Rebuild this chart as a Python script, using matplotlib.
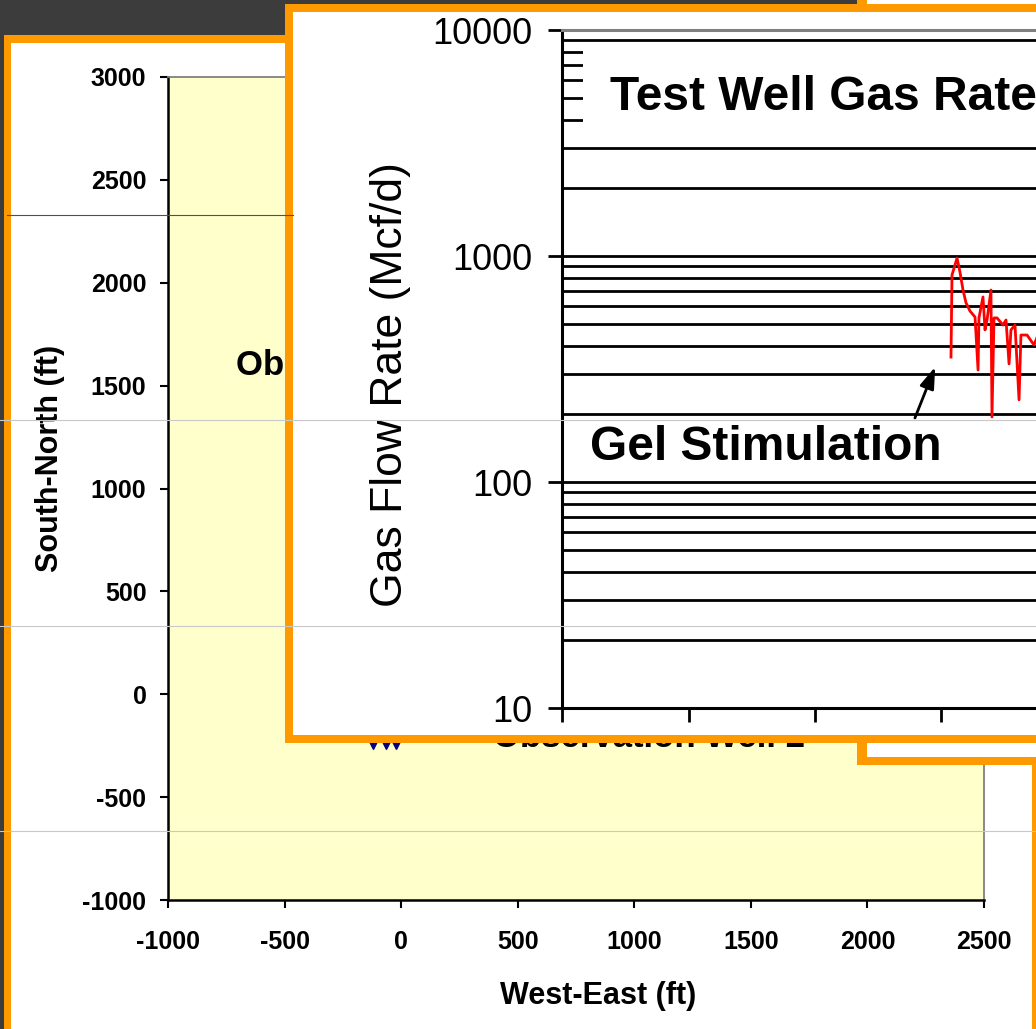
import numpy as np
import matplotlib.pyplot as plt
from matplotlib.patches import Rectangle
from matplotlib.lines import Line2D
from matplotlib.ticker import LogLocator, NullFormatter

plt.rcParams['font.family'] = ['Liberation Sans', 'DejaVu Sans']
plt.rcParams['axes.unicode_minus'] = False

# --- well map (plan view) ---
well_x = [-121, -65, -22]
well_y = [-239, -239, -239]
well_labels = ['Observation Well 1', 'Observation Well 2']
label_x = [-708, 394]
label_y = [1552, -254]
we_ticks = [-1000, -500, 0, 500, 1000, 1500, 2000, 2500]
sn_ticks = [-1000, -500, 0, 500, 1000, 1500, 2000, 2500, 3000]

# --- test well gas rate ---
days = [307.5, 308.3, 312.3, 314.6, 317.0, 319.4, 322.5, 326.5, 328.9, 329.6,
        332.8, 334.4, 336.0, 339.1, 339.9, 341.5, 343.9, 348.6, 351.0, 353.4,
        354.9, 358.1, 361.3, 362.8, 367.6, 373.1, 377.9]
gas_rate = [357, 824, 980, 849, 707, 620, 571, 537, 313, 532,
            659, 471, 521, 707, 194, 532, 532, 495, 521, 333,
            471, 495, 231, 447, 447, 404, 471]
rate_ticks = [10, 100, 1000, 10000]
rate_tick_labels = ['10', '100', '1000', '10000']
day_ticks = [0, 100, 200, 300, 400, 500]

ORANGE = '#FF9900'
W, H = 1036, 1029


def box(x0, y0, x1, y1):
    """pixel box (top-left origin) -> figure fraction [x, y, w, h]"""
    return [x0 / W, 1 - y1 / H, (x1 - x0) / W, (y1 - y0) / H]


def panel(outer, inner, z):
    for r, c in ((outer, ORANGE), (inner, 'white')):
        b = box(*r)
        fig.add_artist(Rectangle(b[:2], b[2], b[3], transform=fig.transFigure,
                                 facecolor=c, edgecolor='none', zorder=z))


fig = plt.figure(figsize=(10.36, 10.29), dpi=100)
fig.patch.set_facecolor('#3c3c3c')

# slide panels (back to front)
panel((4, 35, 1050, 1050), (11, 43, 1032, 1050), 1)

# ---- map chart ----
ax1 = fig.add_axes(box(168, 77, 984, 900))
ax1.set_zorder(2)
ax1.set_facecolor('#FFFFCC')
ax1.plot(well_x, well_y, 'v', color='#000080', ms=8)
for t, x, y in zip(well_labels, label_x, label_y):
    ax1.text(x, y, t, fontsize=25, fontweight='bold', va='baseline', ha='left')
ax1.set_xlim(-1000, 2500)
ax1.set_ylim(-1000, 3000)
ax1.set_xticks(we_ticks)
ax1.set_yticks(sn_ticks)
plt.setp(ax1.get_xticklabels() + ax1.get_yticklabels(), fontweight='bold')
ax1.tick_params(axis='both', direction='out', length=5.5, width=1.5, labelsize=18)
ax1.tick_params(axis='x', pad=16)
ax1.tick_params(axis='y', pad=10)
for s in ('left', 'bottom'):
    ax1.spines[s].set_linewidth(1.8)
    ax1.spines[s].set_color('black')
for s in ('top', 'right'):
    ax1.spines[s].set_linewidth(1.3)
    ax1.spines[s].set_color('#808080')
ax1.set_xlabel('West-East (ft)', fontsize=22, fontweight='bold', va='center')
ax1.set_ylabel('South-North (ft)', fontsize=22, fontweight='bold', va='center')
ax1.xaxis.set_label_coords((598 - 168) / 816, (900 - 996) / 823)
ax1.yaxis.set_label_coords((50 - 168) / 816, (900 - 458) / 823)

panel((857, -20, 1050, 765), (867, -20, 1050, 757), 3)
panel((285, 4, 1050, 743), (293, 12, 1050, 735), 4)

# ---- gas rate chart ----
ax2 = fig.add_axes(box(562, 30, 562 + 632.5, 708))
ax2.set_zorder(5)
ax2.set_facecolor('white')
ax2.set_yscale('log')
ax2.set_xlim(0, 500)
ax2.set_ylim(10, 10000)
ax2.set_xticks(day_ticks)
ax2.set_yticks(rate_ticks, labels=rate_tick_labels)
ax2.yaxis.set_minor_locator(LogLocator(base=10, subs=np.arange(2, 10)))
ax2.yaxis.set_minor_formatter(NullFormatter())
ax2.tick_params(axis='x', labelbottom=False, direction='out', length=10, width=2)
ax2.tick_params(axis='y', which='major', direction='out', length=10, width=2,
                labelsize=26, pad=11)
ax2.tick_params(axis='y', which='minor', length=0)
ax2.yaxis.grid(True, which='both', color='black', lw=2.0)
for s in ('left', 'bottom'):
    ax2.spines[s].set_linewidth(2.2)
    ax2.spines[s].set_color('black')
ax2.spines['top'].set_linewidth(2.2)
ax2.spines['top'].set_color('#808080')
ax2.spines['top'].set_zorder(3)

ax2.plot(days, gas_rate, color='red', lw=2.0, zorder=2.2)

# white box behind the chart title
ax2.add_patch(Rectangle((16.6, 3260), 600, 8500 - 3260, facecolor='white',
                        edgecolor='none', zorder=2))
ax2.text(38, 4426, 'Test Well Gas Rate', fontsize=34.5, fontweight='bold',
         va='baseline', ha='left', zorder=3)
ax2.text(22, 125, 'Gel Stimulation', fontsize=34.5, fontweight='bold',
         va='baseline', ha='left', zorder=3)
ax2.annotate('', xy=(295, 323), xytext=(279, 192),
             arrowprops=dict(arrowstyle='-|>,head_length=0.65,head_width=0.22',
                             color='black', lw=2, mutation_scale=20,
                             shrinkA=0, shrinkB=0))
ax2.set_ylabel('Gas Flow Rate (Mcf/d)', fontsize=32, va='center')
ax2.yaxis.set_label_coords((390 - 562) / 632.5, (708 - 385) / 678)

# faint scan lines across the slide
fig.add_artist(Line2D([7 / W, 293 / W], [1 - 215 / H] * 2, color='#505050',
                      lw=0.8, transform=fig.transFigure, zorder=6))
for yy in (420, 626, 831):
    fig.add_artist(Line2D([0, 1], [1 - yy / H] * 2, color='#c8c8c8', lw=0.8,
                          transform=fig.transFigure, zorder=6))

fig.savefig('out.png', dpi=100)
